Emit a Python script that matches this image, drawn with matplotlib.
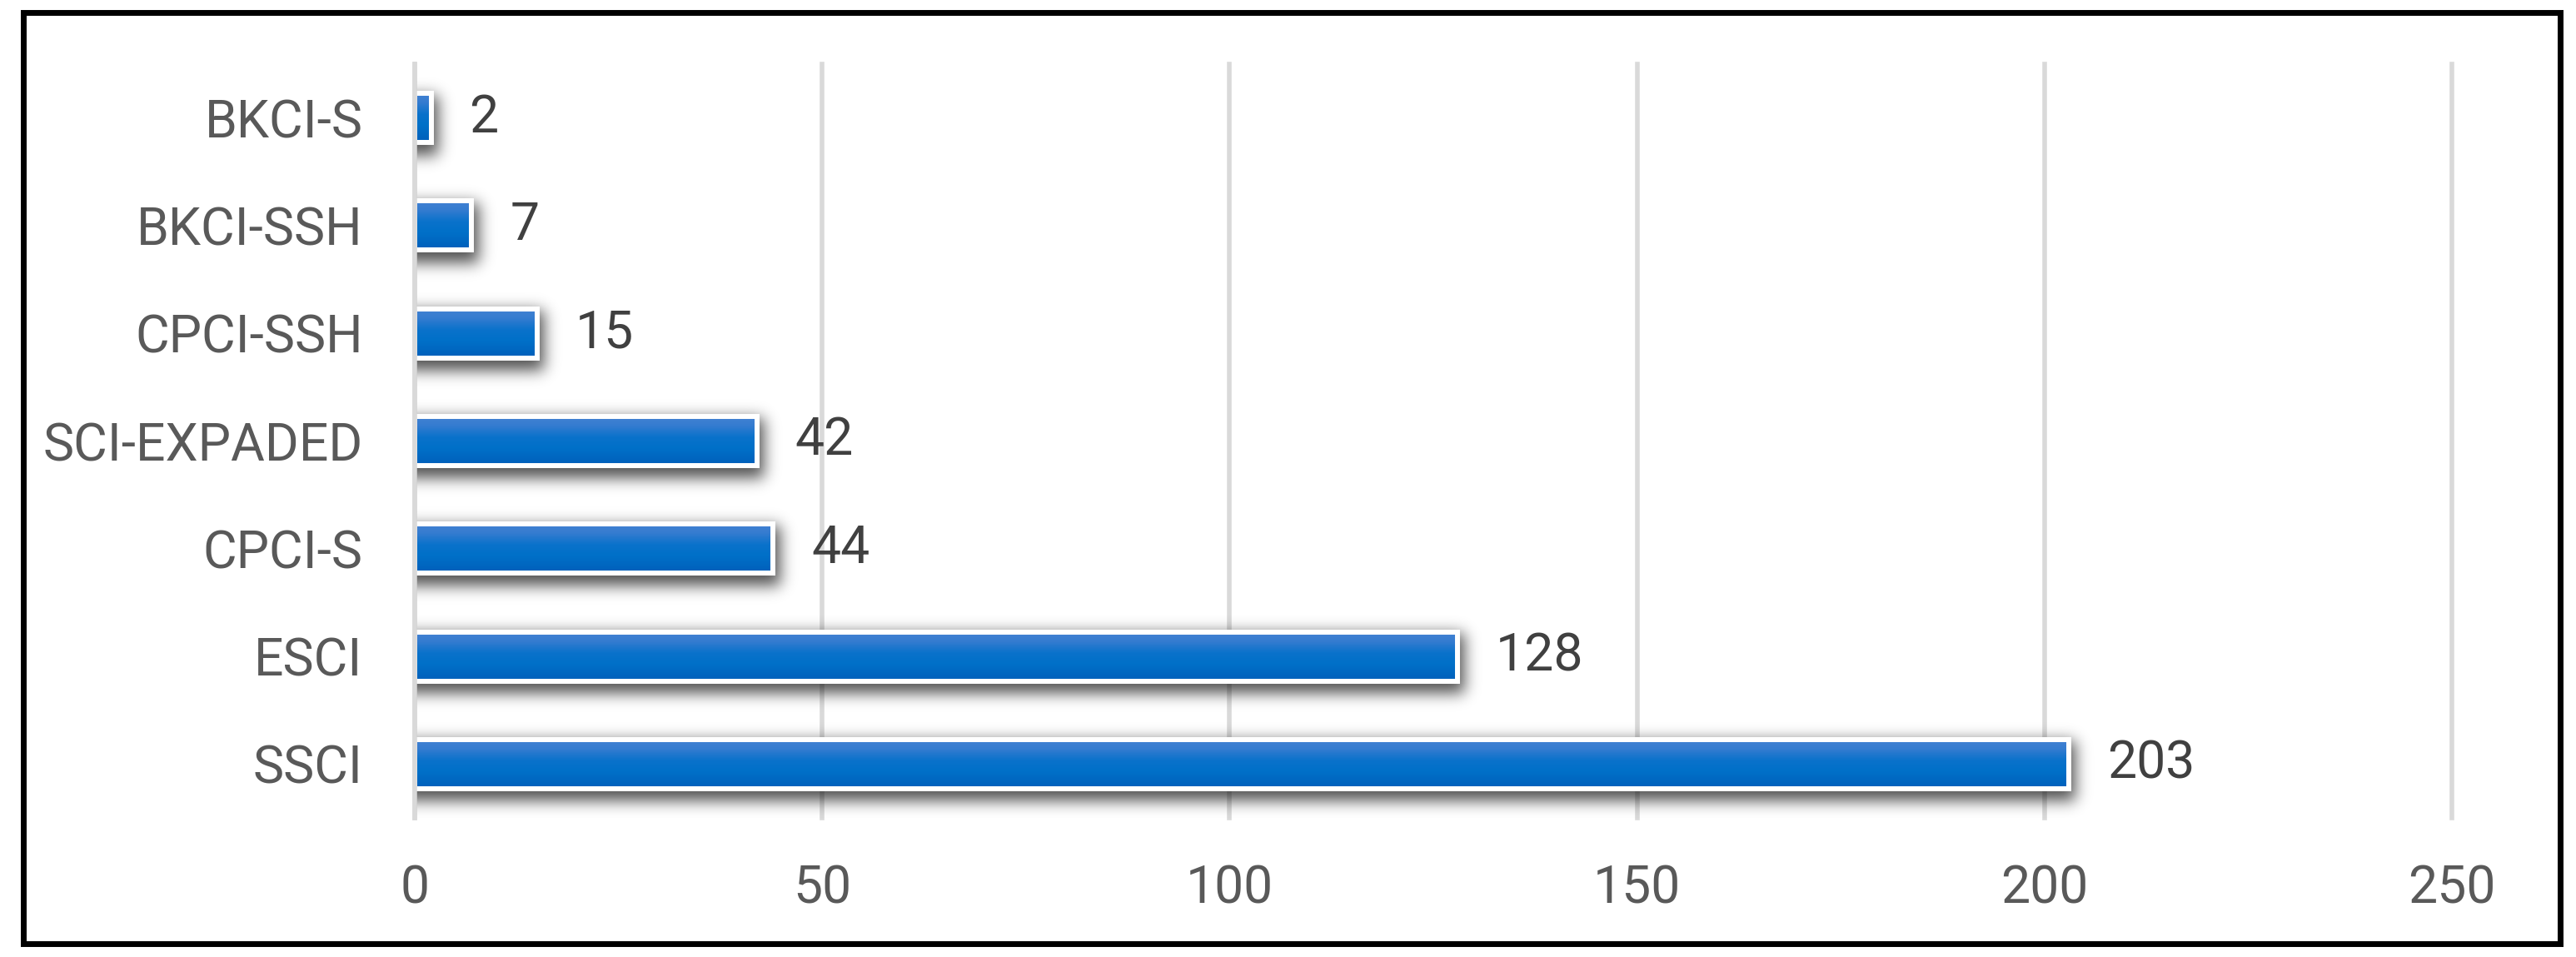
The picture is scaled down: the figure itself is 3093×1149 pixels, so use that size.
import math
import numpy as np
import matplotlib
matplotlib.use("Agg")
import matplotlib.pyplot as plt
from matplotlib.patches import Rectangle
from matplotlib.colors import LinearSegmentedColormap

# ---------------- data ----------------
categories = ["SSCI", "ESCI", "CPCI-S", "SCI-EXPADED", "CPCI-SSH", "BKCI-SSH", "BKCI-S"]
values = [203, 128, 44, 42, 15, 7, 2]
x_ticks = [0, 50, 100, 150, 200, 250]

# ---------------- figure ----------------
W_PX, H_PX = 3093, 1149
DPI = 100
plt.rcParams['font.family'] = ['Roboto', 'DejaVu Sans']
fig = plt.figure(figsize=(W_PX / DPI, H_PX / DPI), dpi=DPI)
fig.patch.set_facecolor('white')

ax_l, ax_r = 498, 2944
ax_t, ax_b = 77, 982
L = ax_l / W_PX
B = 1 - ax_b / H_PX
W = (ax_r - ax_l) / W_PX
H = (ax_b - ax_t) / H_PX
ax = fig.add_axes([L, B, W, H])

xmin, xmax = 0, 250
ymin, ymax = -0.5, len(categories) - 0.5
ypos = np.arange(len(categories))
bar_h = 0.456

ax_w_px = ax_r - ax_l
ax_h_px = ax_b - ax_t
px_x = (xmax - xmin) / ax_w_px
px_y = (ymax - ymin) / ax_h_px

grid_col = '#d9d9d9'
grid_lw = 4.0

# gridlines
ax.set_xticks(x_ticks)
ax.xaxis.grid(True, color=grid_col, lw=grid_lw, zorder=0)
ax.set_axisbelow(True)
for s in ['top', 'right', 'bottom']:
    ax.spines[s].set_visible(False)
ax.spines['left'].set_color(grid_col)
ax.spines['left'].set_linewidth(grid_lw)
ax.spines['left'].set_zorder(6)

# ---------------- shadow ----------------
erf = np.vectorize(math.erf)


def Phi(z):
    return 0.5 * (1 + erf(z / math.sqrt(2)))


nx, ny = int(ax_w_px), int(ax_h_px)
xs = np.linspace(xmin, xmax, nx)
ys = np.linspace(ymin, ymax, ny)
alpha = np.zeros((ny, nx))
sig = 9.0
A = 0.68
for y, v in zip(ypos, values):
    x0 = -20 * px_x
    x1 = v + 8 * px_x
    y_top = y + bar_h / 2 - 2 * px_y
    y_bot = y - bar_h / 2 - 15 * px_y
    fx = Phi((xs - x0) / (sig * px_x)) - Phi((xs - x1) / (sig * px_x))
    fy = Phi((ys - y_bot) / (sig * px_y)) - Phi((ys - y_top) / (sig * px_y))
    alpha = np.maximum(alpha, A * np.outer(fy, fx))
shadow = np.zeros((ny, nx, 4))
shadow[..., 3] = alpha
ax.imshow(shadow, extent=(xmin, xmax, ymin, ymax), origin='lower',
          aspect='auto', zorder=1, interpolation='bilinear')

# ---------------- bars ----------------
bars = ax.barh(ypos, values, height=bar_h, color='#0070c8', zorder=2, lw=0)

grad_cmap = LinearSegmentedColormap.from_list(
    'g', [(0.0, '#4281d2'), (0.18, '#357cd0'), (0.42, '#0a72cb'),
          (0.65, '#0070c8'), (1.0, '#005fba')])
grad = np.linspace(0, 1, 64).reshape(-1, 1)
for b in bars:
    im = ax.imshow(grad, cmap=grad_cmap, aspect='auto', origin='upper',
                   extent=(b.get_x(), b.get_x() + b.get_width(),
                           b.get_y(), b.get_y() + b.get_height()),
                   zorder=3, interpolation='bilinear')
    im.set_clip_path(b)

ax.barh(ypos, values, height=bar_h, facecolor='none', edgecolor='white',
        lw=4.3, zorder=4)

# value labels
for y, v in zip(ypos, values):
    ax.annotate(str(v), xy=(v, y), xytext=(33, 0), textcoords='offset points',
                ha='left', va='center', fontsize=45, color='#404040', zorder=7)

ax.set_xlim(xmin, xmax)
ax.set_ylim(ymin, ymax)
ax.set_yticks(ypos, categories)
ax.set_xticklabels([str(t) for t in x_ticks])
ax.tick_params(axis='y', length=0, pad=45, labelsize=45, labelcolor='#595959')
ax.tick_params(axis='x', length=0, pad=40, labelsize=45, labelcolor='#595959')
for gl in ax.get_xgridlines():
    gl.set_clip_on(False)

# outer black frame
fx0, fx1 = 27.5 / W_PX, 3073.5 / W_PX
fy1, fy0 = 1 - 14.5 / H_PX, 1 - 1132.5 / H_PX
fig.patches.append(Rectangle((fx0, fy0), fx1 - fx0, fy1 - fy0,
                             transform=fig.transFigure, fill=False,
                             edgecolor='black', lw=5.0, zorder=10))

fig.savefig('out.png', dpi=DPI, facecolor='white')
